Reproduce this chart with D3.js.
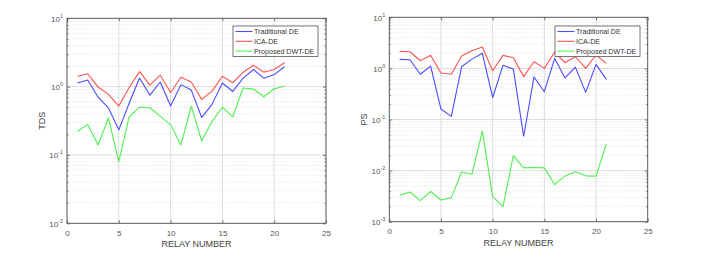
<!DOCTYPE html>
<html><head><meta charset="utf-8">
<script src="https://cdn.jsdelivr.net/npm/d3@7"></script>
<style>
html,body{margin:0;padding:0;background:#fff;}
svg{display:block;font-family:"Liberation Sans",Arial,sans-serif;}
</style></head>
<body>
<svg id="c" width="707" height="273"></svg>
<script>
const relays = d3.range(1, 22);
const seriesNames = ["Traditional DE", "ICA-DE", "Proposed DWT-DE"];
const xTicks = [0, 5, 10, 15, 20, 25];

// Left panel: TDS
const tdsTraditional = [1.13,1.25,0.70,0.49,0.233,0.57,1.34,0.75,1.17,0.52,1.07,0.89,0.354,0.55,1.13,0.85,1.33,1.78,1.33,1.50,1.95];
const tdsICA         = [1.42,1.54,0.99,0.77,0.52,0.97,1.66,1.05,1.47,0.82,1.37,1.17,0.65,0.86,1.42,1.14,1.62,2.06,1.62,1.78,2.23];
const tdsDWT         = [0.22,0.28,0.14,0.346,0.08,0.36,0.50,0.49,0.37,0.276,0.14,0.52,0.16,0.31,0.50,0.36,0.955,0.92,0.71,0.93,1.01];
const tdsYTicks = [-2, -1, 0, 1];

// Right panel: PS
const psTraditional = [1.50,1.48,0.77,1.11,0.16,0.115,1.08,1.52,1.97,0.27,1.15,0.97,0.047,0.68,0.35,1.57,0.65,1.06,0.34,1.20,0.61];
const psICA         = [2.15,2.12,1.41,1.80,0.81,0.77,1.75,2.22,2.62,0.90,1.80,1.62,0.69,1.35,1.00,2.10,1.29,1.69,1.00,1.83,1.25];
const psDWT         = [0.00328,0.00382,0.00258,0.0039,0.00266,0.00296,0.0094,0.0085,0.059,0.00314,0.00197,0.0197,0.0113,0.0115,0.0113,0.0053,0.00786,0.0095,0.0079,0.0078,0.0333];
const psYTicks = [-3, -2, -1, 0, 1];

const colors = ["#4b4bff", "#ff5252", "#4ff04f"];
const svg = d3.select("#c");

function panel(cfg) {
  const g = svg.append("g");
  const x = d3.scaleLinear([0, 25], [cfg.left, cfg.right]);
  const y = d3.scaleLog([Math.pow(10, cfg.yExp[0]), Math.pow(10, cfg.yExp[cfg.yExp.length-1])], [cfg.bottom, cfg.top]);

  // minor grid (log)
  const minors = [];
  for (let e = cfg.yExp[0]; e < cfg.yExp[cfg.yExp.length-1]; e++)
    for (let m = 2; m <= 9; m++) minors.push(m * Math.pow(10, e));
  g.append("g").selectAll("line").data(minors).join("line")
    .attr("x1", cfg.left).attr("x2", cfg.right)
    .attr("y1", d => y(d)).attr("y2", d => y(d))
    .attr("stroke", "#d4d4d4").attr("stroke-width", 0.6).attr("stroke-dasharray", "1,1.5");
  // major grid
  g.append("g").selectAll("line").data(cfg.yExp).join("line")
    .attr("x1", cfg.left).attr("x2", cfg.right)
    .attr("y1", d => y(Math.pow(10, d))).attr("y2", d => y(Math.pow(10, d)))
    .attr("stroke", "#dcdcdc").attr("stroke-width", 1);
  g.append("g").selectAll("line").data(xTicks).join("line")
    .attr("x1", d => x(d)).attr("x2", d => x(d))
    .attr("y1", cfg.top).attr("y2", cfg.bottom)
    .attr("stroke", "#dcdcdc").attr("stroke-width", 1);

  // series
  const line = d3.line().x((d, i) => x(relays[i])).y(d => y(d));
  cfg.series.forEach((s, i) => {
    g.append("path").datum(s).attr("d", line)
      .attr("fill", "none").attr("stroke", colors[i]).attr("stroke-width", 1.1)
      .attr("stroke-linejoin", "round");
  });

  // axes
  const xa = g.append("g").attr("transform", `translate(0,${cfg.bottom})`)
    .call(d3.axisBottom(x).tickValues(xTicks).tickSizeInner(-3).tickSizeOuter(0).tickPadding(7));
  const xt = g.append("g").attr("transform", `translate(0,${cfg.top})`)
    .call(d3.axisTop(x).tickValues(xTicks).tickSizeInner(-3).tickSizeOuter(0).tickFormat(""));
  const ya = g.append("g").attr("transform", `translate(${cfg.left},0)`)
    .call(d3.axisLeft(y).tickValues(cfg.yExp.map(e => Math.pow(10, e))).tickSizeInner(-3).tickSizeOuter(0).tickPadding(6).tickFormat(""));
  const yr = g.append("g").attr("transform", `translate(${cfg.right},0)`)
    .call(d3.axisRight(y).tickValues(cfg.yExp.map(e => Math.pow(10, e))).tickSizeInner(-3).tickSizeOuter(0).tickFormat(""));
  // minor ticks
  const ym = g.append("g").attr("transform", `translate(${cfg.left},0)`)
    .call(d3.axisLeft(y).tickValues(minors).tickSizeInner(-1.5).tickSizeOuter(0).tickFormat(""));
  const ymr = g.append("g").attr("transform", `translate(${cfg.right},0)`)
    .call(d3.axisRight(y).tickValues(minors).tickSizeInner(-1.5).tickSizeOuter(0).tickFormat(""));
  [xa, xt, ya, yr, ym, ymr].forEach(a => {
    a.select(".domain").remove();
    a.selectAll("line").attr("stroke", "#555").attr("stroke-width", 0.8);
  });
  xa.selectAll("text").attr("fill", "#555").attr("font-size", 8).attr("font-family", "Liberation Sans, Arial, sans-serif");

  // y tick labels with superscripts
  ya.selectAll(".tick").each(function(d) {
    const e = Math.round(Math.log10(d));
    const t = d3.select(this).append("text")
      .attr("x", -4).attr("y", 3).attr("text-anchor", "end")
      .attr("fill", "#555").attr("font-size", 8).attr("font-family", "Liberation Sans, Arial, sans-serif");
    t.append("tspan").text("10");
    t.append("tspan").attr("dy", -4).attr("font-size", 5.5).text(String(e).replace("-", "-"));
  });

  // box
  g.append("rect").attr("x", cfg.left).attr("y", cfg.top)
    .attr("width", cfg.right - cfg.left).attr("height", cfg.bottom - cfg.top)
    .attr("fill", "none").attr("stroke", "#555").attr("stroke-width", 0.9);

  // labels
  g.append("text").attr("x", (cfg.left + cfg.right) / 2).attr("y", cfg.bottom + 24)
    .attr("text-anchor", "middle").attr("font-size", 9).attr("fill", "#444").text("RELAY NUMBER");
  g.append("text").attr("transform", `translate(${cfg.ylabelX},${(cfg.top + cfg.bottom) / 2}) rotate(-90)`)
    .attr("text-anchor", "middle").attr("font-size", 9).attr("fill", "#444").text(cfg.ylabel);

  // legend
  const lg = g.append("g").attr("transform", `translate(${cfg.legX},${cfg.legY})`);
  lg.append("rect").attr("width", 85).attr("height", 30.5)
    .attr("fill", "#fff").attr("stroke", "#555").attr("stroke-width", 0.8);
  seriesNames.forEach((n, i) => {
    const yy = 5.5 + i * 9.8;
    lg.append("line").attr("x1", 2.5).attr("x2", 19.5).attr("y1", yy).attr("y2", yy)
      .attr("stroke", colors[i]).attr("stroke-width", 1.1);
    lg.append("text").attr("x", 21).attr("y", yy + 2.5).attr("font-size", 7.1)
      .attr("fill", "#333").text(n);
  });
}

panel({left: 67, right: 326, top: 18.3, bottom: 223.3, yExp: tdsYTicks,
       series: [tdsTraditional, tdsICA, tdsDWT], ylabel: "TDS", ylabelX: 45,
       legX: 233, legY: 26});
panel({left: 389.3, right: 647.7, top: 17.3, bottom: 221.7, yExp: psYTicks,
       series: [psTraditional, psICA, psDWT], ylabel: "PS", ylabelX: 367,
       legX: 555, legY: 26});
</script>
</body></html>
